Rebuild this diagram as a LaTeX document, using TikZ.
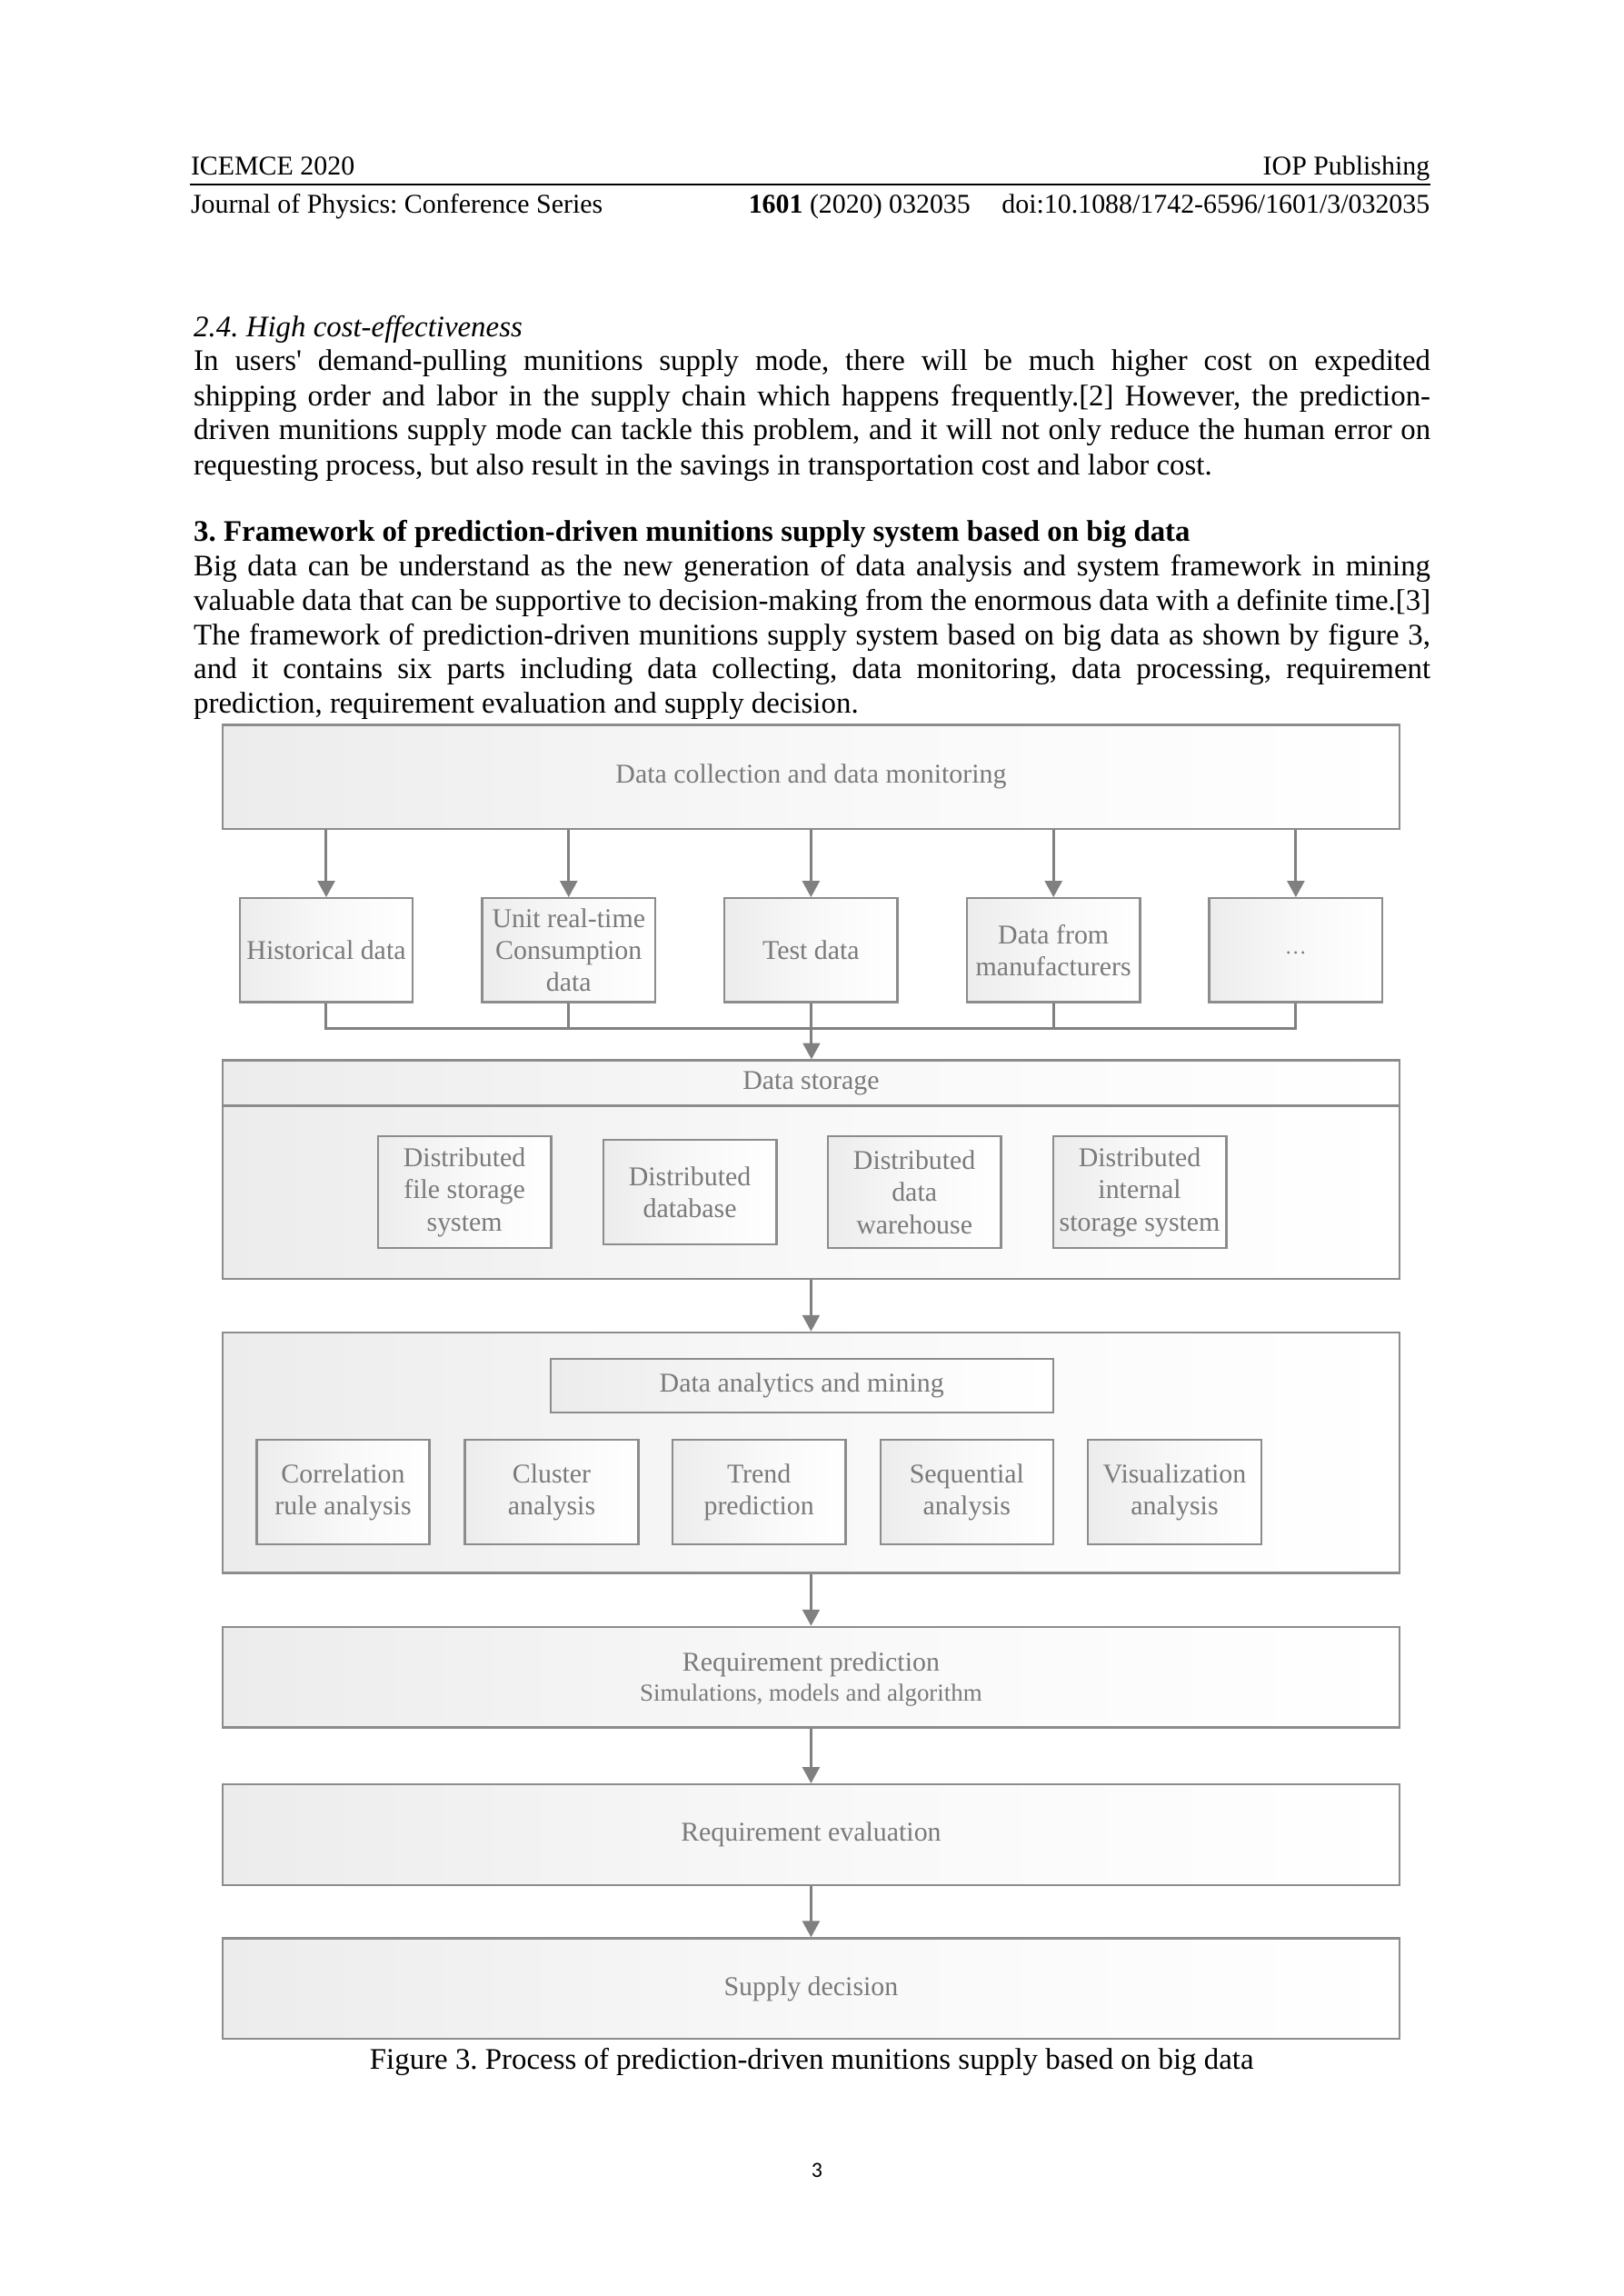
\documentclass[tikz,border=0pt]{standalone}
\usepackage{fontspec}
\setmainfont{Liberation Serif}
\newfontfamily\plainrm{Liberation Serif}
\newfontfamily\pnfont{Carlito}
\usetikzlibrary{fit,arrows.meta}
\definecolor{boxgray}{RGB}{140,140,140}
\definecolor{txtgray}{RGB}{122,122,122}
\definecolor{linegray}{RGB}{128,128,128}
\definecolor{shA}{RGB}{236,236,236}
\definecolor{shB}{RGB}{248,248,248}
\pgfdeclarehorizontalshading{boxsh}{100bp}{color(0bp)=(shA); color(25bp)=(shA); color(50bp)=(shB); color(75bp)=(white); color(100bp)=(white)}
\newcommand{\apos}{{\plainrm '}}
\frenchspacing
\begin{document}
\begin{tikzpicture}[x=0.1894mm,y=0.1894mm,
  fbox/.style={draw=boxgray,line width=0.8pt,shade,shading=boxsh,shading angle=0,inner sep=0pt},
  lbl/.style={text=txtgray,font=\fontsize{10}{11.8}\selectfont,align=center,inner sep=0pt,anchor=center},
  arr/.style={draw=linegray,line width=1pt,-{Triangle[width=2.2mm,length=2.1mm]}},
  ln/.style={draw=linegray,line width=1pt},
  hd/.style={inner sep=0pt,font=\fontsize{10}{12}\selectfont},
  body/.style={anchor=mid west,inner sep=0pt,font=\fontsize{11}{13}\selectfont}]
\fill[white] (0mm,0mm) rectangle (210mm,-297mm);
\path[use as bounding box] (0mm,0mm) rectangle (210mm,-297mm);

% ---------- header ----------
\node[hd,anchor=base west] (h11) at (130,-119.8) {ICEMCE 2020};
\node[hd,anchor=base east] (h12) at (977,-119.8) {IOP Publishing};
\coordinate (rl) at (130,-125.8);
\coordinate (rr) at (977,-125.8);
\draw[line width=0.6pt] (rl) -- (rr);
\node[hd,anchor=base west] (h21) at (130,-145.3) {Journal of Physics: Conference Series};
\node[hd,anchor=base west] (h22) at (511,-145.3) {\textbf{1601} (2020) 032035};
\node[hd,anchor=base east] (h23) at (977,-145.3) {doi:10.1088/1742-6596/1601/3/032035};

% ---------- body text ----------
\node[body] (t0) at (132,-226) {\textit{2.4. High cost-effectiveness}};
\node[body] (t1) at (132,-249) {\makebox[160mm][s]{In users\apos{} demand-pulling munitions supply mode, there will be much higher cost on expedited}};
\node[body] (t2) at (132,-273) {\makebox[160mm][s]{shipping order and labor in the supply chain which happens frequently.[2] However, the prediction-}};
\node[body] (t3) at (132,-296) {\makebox[160mm][s]{driven munitions supply mode can tackle this problem, and it will not only reduce the human error on}};
\node[body] (t4) at (132,-320) {requesting process, but also result in the savings in transportation cost and labor cost.};
\node[body] (t5) at (132,-365.5) {\textbf{3. Framework of prediction-driven munitions supply system based on big data}};
\node[body] (t6) at (132,-389) {\makebox[160mm][s]{Big data can be understand as the new generation of data analysis and system framework in mining}};
\node[body] (t7) at (132,-412.5) {\makebox[160mm][s]{valuable data that can be supportive to decision-making from the enormous data with a definite time.[3]}};
\node[body] (t8) at (132,-436) {\makebox[160mm][s]{The framework of prediction-driven munitions supply system based on big data as shown by figure 3,}};
\node[body] (t9) at (132,-459) {\makebox[160mm][s]{and it contains six parts including data collecting, data monitoring, data processing, requirement}};
\node[body] (t10) at (132,-482.5) {prediction, requirement evaluation and supply decision.};

% ---------- figure ----------
\node[fbox,fit={(152,-495) (956,-566)}] (top) {};
\node[lbl] (topt) at (top.center) {Data collection and data monitoring};

\node[fbox,fit={(163.7,-613.5) (282,-684.5)}] (h1) {};
\node[fbox,fit={(329.3,-613.5) (447.6,-684.5)}] (h2) {};
\node[fbox,fit={(494.8,-613.5) (613.1,-684.5)}] (h3) {};
\node[fbox,fit={(660.4,-613.5) (778.8,-684.5)}] (h4) {};
\node[fbox,fit={(826,-613.5) (944.3,-684.5)}] (h5) {};
\node[lbl] (h1t) at (h1.center) {Historical data};
\node[lbl] (h2t) at (h2.center) {Unit real-time\\Consumption\\data};
\node[lbl] (h3t) at (h3.center) {Test data};
\node[lbl] (h4t) at (h4.center) {Data from\\manufacturers};
\node[lbl,font=\fontsize{8}{9}\selectfont] (h5t) at ([yshift=-0.4mm]h5.center) {\ldots};

\foreach \n in {h1,h2,h3,h4,h5}
  \draw[arr] (\n.north |- top.south) -- (\n.north);

\coordinate (j) at (554.3,-702.7);
\draw[ln] (h1.south) -- (h1.south |- j) -- (h5.south |- j) -- (h5.south);
\foreach \n in {h2,h3,h4}
  \draw[ln] (\n.south) -- (\n.south |- j);

\node[fbox,fit={(152,-724.2) (956,-755.2)}] (sthead) {};
\node[lbl] (stheadt) at (sthead.center) {Data storage};
\node[fbox,fit={(152,-755.2) (956,-873.6)}] (stbody) {};
\draw[arr] (j) -- (j |- sthead.north);

\node[fbox,fit={(258.1,-776) (376.5,-852.4)}] (s1) {};
\node[fbox,fit={(412,-778.6) (530.4,-850)}] (s2) {};
\node[fbox,fit={(565.4,-776) (683.8,-852.4)}] (s3) {};
\node[fbox,fit={(719.3,-776) (837.7,-852.4)}] (s4) {};
\node[lbl] (s1t) at (s1.center) {Distributed\\file storage\\system};
\node[lbl] (s2t) at (s2.center) {Distributed\\database};
\node[lbl] (s3t) at (s3.center) {Distributed\\data\\warehouse};
\node[lbl] (s4t) at (s4.center) {Distributed\\internal\\storage system};

\node[fbox,fit={(152,-910) (956,-1074.3)}] (anal) {};
\draw[arr] (stbody.south) -- (anal.north);
\node[fbox,fit={(376,-928) (719.3,-964.8)}] (dam) {};
\node[lbl] (damt) at (dam.center) {Data analytics and mining};
\node[fbox,fit={(175.4,-983.4) (293.3,-1054.6)}] (c1) {};
\node[fbox,fit={(317.6,-983.4) (436,-1054.6)}] (c2) {};
\node[fbox,fit={(459.3,-983.4) (577.6,-1054.6)}] (c3) {};
\node[fbox,fit={(601.5,-983.4) (719.3,-1054.6)}] (c4) {};
\node[fbox,fit={(743.2,-983.4) (861.5,-1054.6)}] (c5) {};
\node[lbl] (c1t) at (c1.center) {Correlation\\rule analysis};
\node[lbl] (c2t) at (c2.center) {Cluster\\analysis};
\node[lbl] (c3t) at (c3.center) {Trend\\prediction};
\node[lbl] (c4t) at (c4.center) {Sequential\\analysis};
\node[lbl] (c5t) at (c5.center) {Visualization\\analysis};

\node[fbox,fit={(152,-1111.1) (956,-1179.8)}] (rp) {};
\node[lbl] (rpt) at ([yshift=-0.3mm]rp.center) {Requirement prediction\\[-0.8pt]{\fontsize{9}{10.5}\selectfont Simulations, models and algorithm}};
\draw[arr] (anal.south) -- (rp.north);
\node[fbox,fit={(152,-1218.7) (956,-1287.4)}] (re) {};
\node[lbl] (ret) at (re.center) {Requirement evaluation};
\draw[arr] (rp.south) -- (re.north);
\node[fbox,fit={(152,-1323.8) (956,-1392.5)}] (sd) {};
\node[lbl] (sdt) at (sd.center) {Supply decision};
\draw[arr] (re.south) -- (sd.north);

% ---------- caption & page number ----------
\node[anchor=mid,inner sep=0pt,font=\fontsize{11}{13}\selectfont] (cap) at (554.5,-1409)
  {Figure 3. Process of prediction-driven munitions supply based on big data};
\node[anchor=mid,inner sep=0pt,font=\pnfont\fontsize{8}{9}\selectfont] (pn) at (558,-1483) {3};
\end{tikzpicture}
\end{document}
